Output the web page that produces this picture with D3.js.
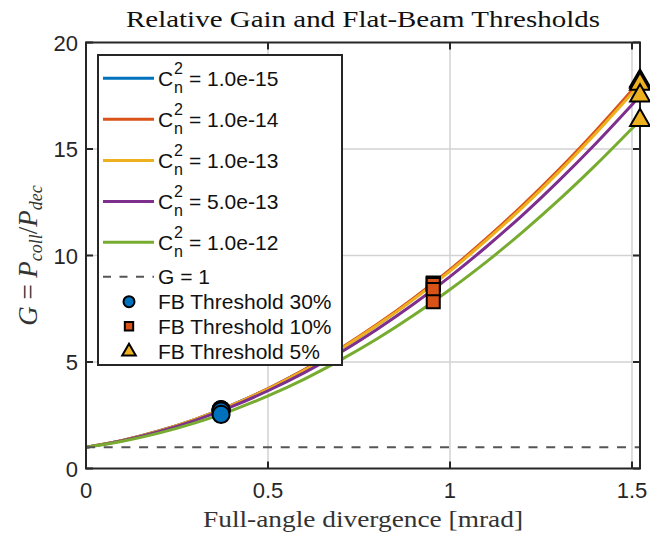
<!DOCTYPE html>
<html><head><meta charset="utf-8">
<script src="https://cdn.jsdelivr.net/npm/d3@7"></script>
<style>body{margin:0;background:#fff}svg{display:block}</style>
</head><body>
<script>
// ---- data ----
const theta = [0,0.1,0.2,0.3,0.4,0.5,0.6,0.7,0.8,0.9,1.0,1.1,1.2,1.3,1.4,1.5,1.522];
const seriesNames = ["1.0e-15","1.0e-14","1.0e-13","5.0e-13","1.0e-12"];
const gBlue   = [1,1.32,1.76,2.31,2.97,3.74,4.63,5.63,6.74,7.97,9.31,10.76,12.33,14.01,15.80,17.70,18.14];
const gOrange = [1,1.32,1.76,2.31,2.98,3.75,4.64,5.65,6.77,8.00,9.34,10.80,12.37,14.05,15.85,17.76,18.20];
const gYellow = [1,1.32,1.75,2.30,2.96,3.73,4.61,5.61,6.72,7.94,9.27,10.72,12.27,13.94,15.73,17.62,18.05];
const gPurple = [1,1.31,1.73,2.26,2.90,3.65,4.50,5.46,6.54,7.72,9.01,10.41,11.91,13.53,15.25,17.08,17.50];
const gGreen  = [1,1.28,1.66,2.14,2.72,3.41,4.20,5.10,6.09,7.19,8.40,9.70,11.11,12.62,14.24,15.96,16.35];
const thrTheta = {fb30:0.371, fb10:0.954, fb5:1.522};
const fb30 = [2.76,2.77,2.75,2.70,2.54];
const fb10 = [8.68,8.71,8.64,8.40,7.83];
const fb5  = [18.14,18.20,18.05,17.50,16.35];
const xTicks = [0,0.5,1,1.5];
const xTickLabels = ["0","0.5","1","1.5"];
const yTicks = [0,5,10,15,20];
const yTickLabels = ["0","5","10","15","20"];
const thrLabels = ["FB Threshold 30%","FB Threshold 10%","FB Threshold 5%"];

const colors = ["#0072BD","#D95319","#EDB120","#7E2F8E","#77AC30"];
const allSeries = [gBlue,gOrange,gYellow,gPurple,gGreen];

const W=650,H=535;
const L=86,R=640,T=42.5,B=468.5;
const svg=d3.select("body").append("svg").attr("width",W).attr("height",H);
const x=d3.scaleLinear().domain([0,1.522]).range([L,R]);
const y=d3.scaleLinear().domain([0,20]).range([B,T]);
const axisCol="#262626";
const sans="Liberation Sans, Arial, sans-serif";
const serif="'Liberation Serif', 'DejaVu Serif', serif";

svg.append("defs").append("clipPath").attr("id","clip").append("rect")
  .attr("x",L).attr("y",T).attr("width",R-L).attr("height",B-T);

// grid
const g=svg.append("g");
g.selectAll(".gx").data(xTicks.filter(d=>d>0)).join("line")
  .attr("x1",d=>x(d)).attr("x2",d=>x(d)).attr("y1",T).attr("y2",B)
  .attr("stroke","#d2d2d2").attr("stroke-width",1.5);
g.selectAll(".gy").data(yTicks.filter(d=>d>0&&d<20)).join("line")
  .attr("y1",d=>y(d)).attr("y2",d=>y(d)).attr("x1",L).attr("x2",R)
  .attr("stroke","#d2d2d2").attr("stroke-width",1.5);

// curves
const plot=svg.append("g").attr("clip-path","url(#clip)");
const line=d3.line().x((d,i)=>x(theta[i])).y(d=>y(d)).curve(d3.curveCatmullRom);
allSeries.forEach((s,i)=>{
  plot.append("path").datum(s).attr("d",line).attr("fill","none")
    .attr("stroke",colors[i]).attr("stroke-width",3);
});
// G = 1
plot.append("line").attr("x1",x(0)).attr("x2",x(1.522)).attr("y1",y(1)).attr("y2",y(1))
  .attr("stroke","#555").attr("stroke-width",2).attr("stroke-dasharray","9,8.7");

// axes box + ticks
const ax=svg.append("g");
ax.append("rect").attr("x",L).attr("y",T).attr("width",R-L).attr("height",B-T)
  .attr("fill","none").attr("stroke",axisCol).attr("stroke-width",2);
const tl=7;
xTicks.forEach(t=>{
  ax.append("line").attr("x1",x(t)).attr("x2",x(t)).attr("y1",B).attr("y2",B-tl).attr("stroke",axisCol).attr("stroke-width",2);
  ax.append("line").attr("x1",x(t)).attr("x2",x(t)).attr("y1",T).attr("y2",T+tl).attr("stroke",axisCol).attr("stroke-width",2);
});
yTicks.forEach(t=>{
  ax.append("line").attr("y1",y(t)).attr("y2",y(t)).attr("x1",L).attr("x2",L+tl).attr("stroke",axisCol).attr("stroke-width",2);
  ax.append("line").attr("y1",y(t)).attr("y2",y(t)).attr("x1",R).attr("x2",R-tl).attr("stroke",axisCol).attr("stroke-width",2);
});
ax.selectAll(".xl").data(xTicks).join("text").attr("x",d=>x(d)).attr("y",B+29)
  .attr("text-anchor","middle").attr("font-family",sans).attr("font-size",22).attr("fill",axisCol)
  .text((d,i)=>xTickLabels[i]);
ax.selectAll(".yl").data(yTicks).join("text").attr("x",L-8).attr("y",d=>y(d)+8)
  .attr("text-anchor","end").attr("font-family",sans).attr("font-size",22).attr("fill",axisCol)
  .text((d,i)=>yTickLabels[i]);

// markers
const mk=svg.append("g");
const drawMarker=(sel,type,cx,cy,size,fill)=>{
  let sym = type==="circle"?d3.symbolCircle:type==="square"?d3.symbolSquare:d3.symbolTriangle;
  sel.append("path").attr("d",d3.symbol().type(sym).size(size)())
    .attr("transform",`translate(${cx},${cy})`).attr("fill",fill)
    .attr("stroke","#000").attr("stroke-width",2);
};
allSeries.forEach((s,i)=>{
  drawMarker(mk,"circle",x(thrTheta.fb30),y(fb30[i]),230,colors[0]);
  drawMarker(mk,"square",x(thrTheta.fb10),y(fb10[i]),170,colors[1]);
  drawMarker(mk,"triangle",x(thrTheta.fb5),y(fb5[i]),170,colors[2]);
});

// title & labels
svg.append("text").attr("x",(L+R)/2).attr("y",27).attr("text-anchor","middle")
  .attr("font-family",serif).attr("font-size",23).attr("fill","#111")
  .attr("textLength",474).attr("lengthAdjust","spacingAndGlyphs")
  .text("Relative Gain and Flat-Beam Thresholds");
svg.append("text").attr("x",(L+R)/2).attr("y",527).attr("text-anchor","middle")
  .attr("font-family",serif).attr("font-size",23).attr("fill","#333")
  .attr("textLength",320).attr("lengthAdjust","spacingAndGlyphs")
  .text("Full-angle divergence [mrad]");
const yl=svg.append("text").attr("transform",`translate(37,${(T+B)/2}) rotate(-90)`)
  .attr("text-anchor","middle").attr("font-family",serif).attr("font-size",27).attr("fill","#333");
yl.append("tspan").attr("font-style","italic").text("G");
yl.append("tspan").text(" = ");
yl.append("tspan").attr("font-style","italic").text("P");
yl.append("tspan").attr("font-style","italic").attr("font-size",18).attr("dy",5).text("coll");
yl.append("tspan").attr("dy",-5).text("/");
yl.append("tspan").attr("font-style","italic").text("P");
yl.append("tspan").attr("font-style","italic").attr("font-size",18).attr("dy",5).text("dec");

// legend
const lg=svg.append("g");
lg.append("rect").attr("x",98).attr("y",55).attr("width",244).attr("height",310)
  .attr("fill","#fff").attr("stroke",axisCol).attr("stroke-width",2);
const rowY=[78.3,119.3,160.5,201.5,242.3];
seriesNames.forEach((n,i)=>{
  const yy=rowY[i];
  lg.append("line").attr("x1",103).attr("x2",154).attr("y1",yy).attr("y2",yy)
    .attr("stroke",colors[i]).attr("stroke-width",3);
  const t=lg.append("text").attr("x",158).attr("y",yy+7.5).attr("font-family",sans).attr("font-size",21).attr("fill","#111");
  t.append("tspan").text("C");
  t.append("tspan").attr("x",174).attr("dy",-12).attr("font-size",16).text("2");
  t.append("tspan").attr("x",174).attr("dy",19).attr("font-size",16).text("n");
  t.append("tspan").attr("x",189).attr("dy",-7).text("= "+n);
});
lg.append("line").attr("x1",103).attr("x2",154).attr("y1",276.7).attr("y2",276.7)
  .attr("stroke","#555").attr("stroke-width",2).attr("stroke-dasharray","8,8.5");
lg.append("text").attr("x",158).attr("y",276.7+7.5).attr("font-family",sans).attr("font-size",21).attr("fill","#111").text("G = 1");
const thrY=[301.7,326.2,351.5];
const thrTypes=["circle","square","triangle"];
thrLabels.forEach((t,i)=>{
  drawMarker(lg,thrTypes[i],129,thrY[i],i===0?95:i===1?70:80,colors[i]);
  lg.append("text").attr("x",158).attr("y",thrY[i]+7.5).attr("font-family",sans).attr("font-size",21).attr("fill","#111").text(t);
});
</script>
</body></html>
